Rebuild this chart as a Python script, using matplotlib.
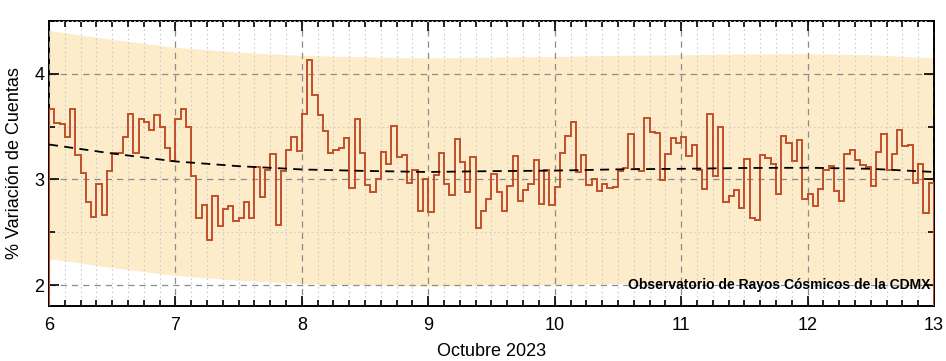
import matplotlib
matplotlib.use('Agg')
import matplotlib.pyplot as plt
import numpy as np
from matplotlib.ticker import MultipleLocator

# hourly variation, Oct 6 00h .. Oct 12 23h
day6 = [3.67, 3.53, 3.52, 3.40, 3.67, 3.23, 3.06, 2.79, 2.64, 2.96, 2.66, 3.08,
        3.25, 3.245, 3.40, 3.62, 3.25, 3.57, 3.54, 3.47, 3.61, 3.50, 3.30, 3.17]
day7 = [3.57, 3.67, 3.50, 3.03, 2.63, 2.76, 2.43, 2.84, 2.56, 2.72, 2.75, 2.61,
        2.63, 2.79, 2.63, 3.12, 2.83, 3.09, 3.24, 2.57, 3.08, 3.28, 3.40, 3.27]
day8 = [3.62, 4.13, 3.80, 3.61, 3.46, 3.25, 3.28, 3.30, 3.39, 2.92, 3.57, 3.245,
        2.95, 2.88, 3.00, 3.26, 3.15, 3.51, 3.21, 3.23, 2.97, 3.09, 2.70, 3.00]
day9 = [2.69, 3.04, 3.245, 2.96, 2.85, 3.38, 3.16, 2.88, 3.21, 2.54, 2.70, 2.81,
        3.05, 2.88, 2.70, 2.94, 3.22, 2.80, 2.90, 2.96, 3.18, 2.77, 3.09, 2.76]
day10 = [2.93, 3.25, 3.41, 3.54, 3.07, 3.23, 2.95, 3.00, 2.89, 2.96, 2.92, 2.93,
         3.08, 3.11, 3.43, 3.10, 3.08, 3.58, 3.45, 3.44, 2.99, 3.24, 3.39, 3.34]
day11 = [3.40, 3.22, 3.33, 3.09, 2.91, 3.62, 3.03, 3.50, 2.79, 2.84, 2.90, 2.73,
         3.19, 2.63, 2.62, 3.23, 3.20, 3.15, 2.86, 3.41, 3.34, 3.17, 3.37, 2.81]
day12 = [2.86, 2.75, 2.91, 3.09, 3.13, 2.89, 2.80, 3.24, 3.28, 3.18, 3.14, 3.12,
         2.94, 3.26, 3.43, 3.09, 3.24, 3.47, 3.32, 3.33, 2.97, 3.15, 2.68, 2.97]

# smooth trend, sampled every half day
trend_x = [6.0, 6.5, 7.0, 7.5, 8.0, 8.5, 9.0, 9.5, 10.0, 10.5, 11.0, 11.5, 12.0, 12.5, 13.0]
trend_y = [3.33, 3.245, 3.17, 3.125, 3.094, 3.08, 3.07, 3.078, 3.083, 3.095, 3.10, 3.108, 3.11, 3.10, 3.07]
band_half = 1.08

days = [6, 7, 8, 9, 10, 11, 12, 13]

values = np.array(day6 + day7 + day8 + day9 + day10 + day11 + day12)
edges = 6 + np.arange(len(values) + 1) / 24.0
trend_x = np.array(trend_x)
trend_y = np.array(trend_y)

plt.rcParams['font.family'] = ['Liberation Sans', 'DejaVu Sans']

fig = plt.figure(figsize=(9.46, 3.61), dpi=100)
ax = fig.add_axes([0.0518, 0.152, 0.9355, 0.79])

ax.fill_between(trend_x, trend_y - band_half, trend_y + band_half,
                color='#fdecc9', lw=0, zorder=1)
ax.stairs(values, edges, color='#c24e2b', lw=1.4, zorder=3)
ax.plot(trend_x, trend_y, color='black', ls=(0, (5, 3.5)), lw=1.3, zorder=4)

ax.set_xlim(6, 13)
ax.set_ylim(1.8, 4.5)
ax.set_xticks(days)
ax.xaxis.set_minor_locator(MultipleLocator(0.125))
ax.set_yticks([2, 3, 4])
ax.yaxis.set_minor_locator(MultipleLocator(0.5))

ax.grid(which='major', color='#8c8c8c', ls=(0, (5, 4)), lw=0.9, zorder=2)
ax.grid(which='minor', color='#cdcdcd', ls=(0, (1.5, 2.5)), lw=0.8, zorder=2)
ax.set_axisbelow(False)

ax.tick_params(which='both', direction='in', top=True, right=True,
               labelsize=13, width=1.2)
ax.tick_params(which='major', length=7)
ax.tick_params(which='minor', length=4)
ax.tick_params(axis='x', pad=8)
for s in ax.spines.values():
    s.set_linewidth(1.4)

ax.set_xlabel('Octubre 2023', fontsize=13, labelpad=6)
ax.set_ylabel('% Variación de Cuentas', fontsize=13, labelpad=8)

ax.text(12.97, 2.0, 'Observatorio de Rayos Cósmicos de la CDMX',
        ha='right', va='center', fontsize=10, fontweight='bold', zorder=5)

fig.savefig('out.png', dpi=100)
